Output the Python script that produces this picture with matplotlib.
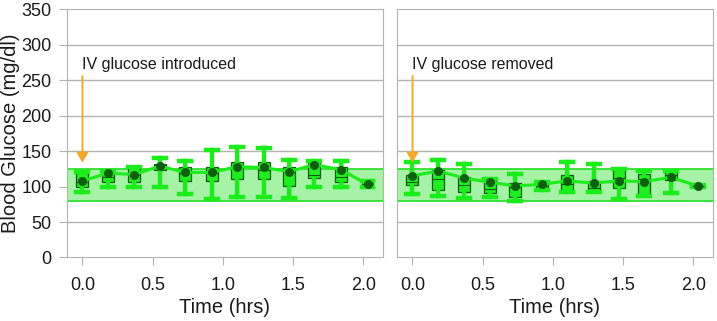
import matplotlib.pyplot as plt
import numpy as np

plt.rcParams['font.family'] = ['Liberation Sans', 'DejaVu Sans']

# sampling times (hrs)
times = [0, 0.18, 0.37, 0.55, 0.73, 0.92, 1.10, 1.29, 1.47, 1.65, 1.84, 2.03]

# left panel: IV glucose introduced
left_mean = [108, 119, 117, 129, 120, 120, 128, 127, 121, 131, 124, 103]
left_med  = [106, 113, 116, 130, 119, 119, 127, 124, 120, 117, 114, 104]
left_q1   = [99, 107, 107, 123, 108, 108, 110, 110, 101, 112, 107, 100]
left_q3   = [120, 120, 127, 132, 127, 127, 134, 135, 128, 135, 127, 108]
left_lo   = [92, 99, 99, 100, 90, 82, 85, 86, 84, 100, 100, 100]
left_hi   = [120, 122, 128, 140, 136, 151, 156, 154, 138, 136, 136, 108]

# right panel: IV glucose removed
right_mean = [115, 122, 112, 106, 101, 103, 108, 105, 108, 107, 113, 101]
right_med  = [107, 110, 102, 97, 100, 101, 104, 98, 112, 111, 117, 101]
right_q1   = [102, 95, 93, 91, 86, 98, 94, 92, 98, 87, 109, 100]
right_q3   = [117, 123, 113, 111, 105, 106, 116, 108, 125, 118, 122, 102]
right_lo   = [90, 87, 84, 85, 80, 95, 93, 92, 83, 87, 91, 100]
right_hi   = [135, 137, 132, 111, 118, 106, 134, 132, 125, 122, 122, 102]

band = (80, 125)
yticks = [0, 50, 100, 150, 200, 250, 300, 350]
xticks = [0.0, 0.5, 1.0, 1.5, 2.0]

bright = '#19ee19'
dark = '#0c5f0c'
grey = '#b3b3b3'
txt = '#1a1a1a'

fig = plt.figure(figsize=(7.17, 3.21), dpi=100)
ax1 = fig.add_axes([0.0934, 0.198, 0.4407, 0.7726])
ax2 = fig.add_axes([0.5537, 0.198, 0.4407, 0.7726])


def draw_panel(ax, mean, med, q1, q3, lo, hi, note):
    ax.set_xlim(-0.11, 2.14)
    ax.set_ylim(0, 350)
    for y in yticks[1:-1]:
        ax.axhline(y, color=grey, lw=1, zorder=0)
    ax.axhspan(band[0], band[1], facecolor='#a6f2a6', edgecolor='none', zorder=1)
    ax.axhline(band[0], color='#2fe02f', lw=1.3, zorder=1)
    ax.axhline(band[1], color='#2fe02f', lw=1.3, zorder=1)

    stats = []
    for i in range(len(times)):
        stats.append(dict(med=med[i], q1=q1[i], q3=q3[i],
                          whislo=lo[i], whishi=hi[i], fliers=[]))
    bp = ax.bxp(stats, positions=times, widths=0.085, patch_artist=True,
                showfliers=False, manage_ticks=False,
                medianprops=dict(color=dark, lw=0.8),
                whiskerprops=dict(color=bright, lw=3.2),
                capprops=dict(color=bright, lw=3.2),
                capwidths=0.085, zorder=3)
    for b in bp['boxes']:
        b.set_facecolor('#1ef01e')
        b.set_edgecolor(dark)
        b.set_linewidth(0.9)
    ax.plot(times, mean, color=bright, lw=2.2, zorder=4)
    ax.plot(times, mean, 'o', color=dark, ms=5.5, zorder=5)

    ax.annotate('', xy=(0, 130), xytext=(0, 260),
                arrowprops=dict(arrowstyle='-|>,head_width=0.35,head_length=0.6',
                                color='#f7a823', lw=1.3), zorder=6)
    ax.text(-0.005, 272, note, fontsize=11.5, color=txt,
            ha='left', va='center')

    for s in ax.spines.values():
        s.set_color(grey)
    ax.set_xticks(xticks)
    ax.set_xticklabels(['%.1f' % t for t in xticks])
    ax.tick_params(axis='x', colors=grey, labelcolor=txt,
                   labelsize=13, length=6, pad=8)
    ax.set_xlabel('Time (hrs)', fontsize=14.5, color=txt, labelpad=3)


draw_panel(ax1, left_mean, left_med, left_q1, left_q3, left_lo, left_hi,
           'IV glucose introduced')
draw_panel(ax2, right_mean, right_med, right_q1, right_q3, right_lo, right_hi,
           'IV glucose removed')

ax1.set_yticks(yticks)
ax1.tick_params(axis='y', colors=grey, labelcolor=txt,
                labelsize=13, length=6, pad=5)
ax1.set_ylabel('Blood Glucose (mg/dl)', fontsize=14.5, color=txt, labelpad=1)
ax2.set_yticks([])

fig.savefig('out.png', dpi=100)
